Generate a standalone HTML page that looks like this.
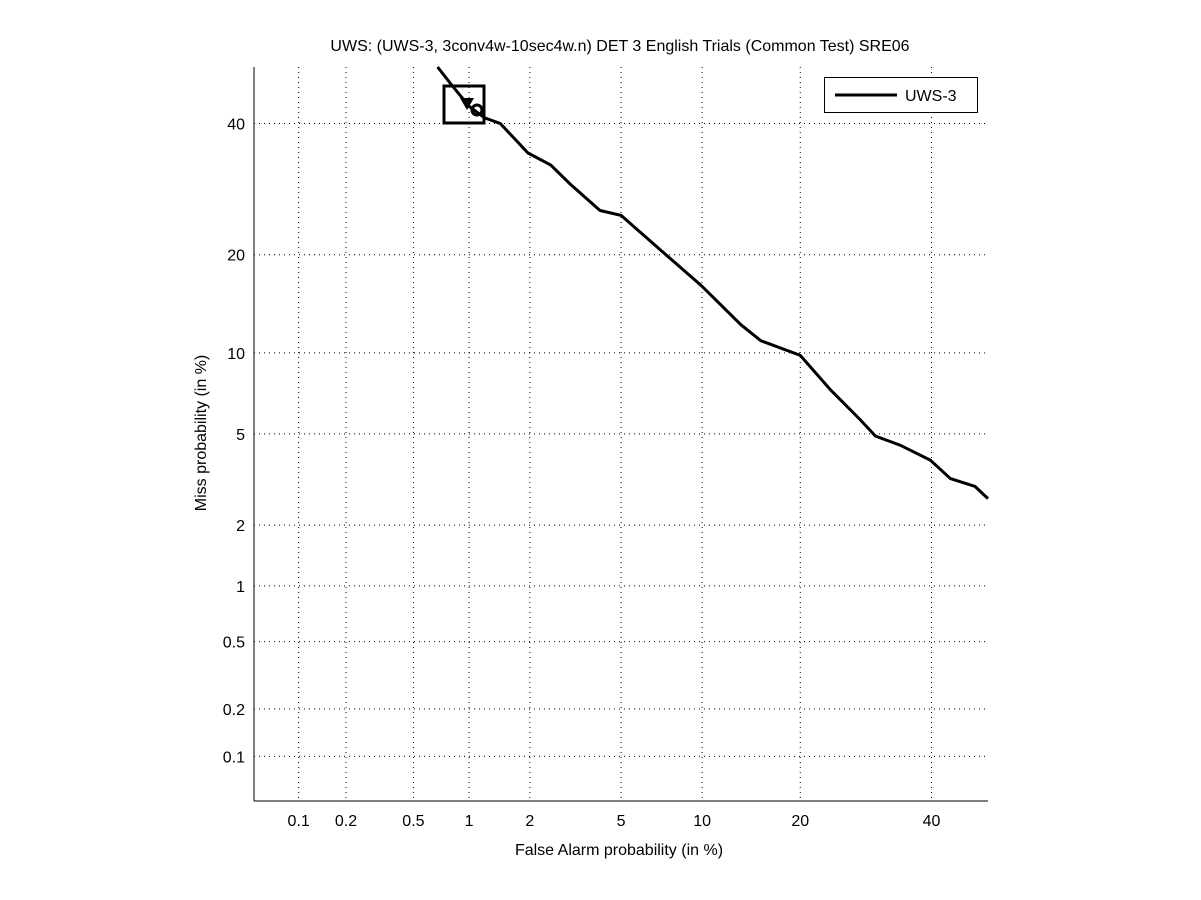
<!DOCTYPE html>
<html><head><meta charset="utf-8"><style>
html,body{margin:0;padding:0;background:#fff;}
svg{display:block;font-family:"Liberation Sans",sans-serif;}
</style></head><body>
<svg id="chart" width="1201" height="900">
<rect width="1201" height="900" fill="#fff"/>
<text x="620" y="51" font-size="16" text-anchor="middle">UWS: (UWS-3, 3conv4w-10sec4w.n) DET 3 English Trials (Common Test) SRE06</text>
<text x="619" y="855" font-size="16" text-anchor="middle">False Alarm probability (in %)</text>
<text transform="translate(206,433) rotate(-90)" font-size="16" text-anchor="middle">Miss probability (in %)</text>
<g id="grid"></g>
<g id="ticks"></g>
<line x1="254" y1="67" x2="254" y2="801" stroke="#000"/>
<line x1="254" y1="801" x2="988" y2="801" stroke="#000"/>
<g id="series"></g>
<g>
<rect x="824.5" y="77.5" width="153" height="35" fill="#fff" stroke="#000"/>
<line x1="835" y1="95" x2="897" y2="95" stroke="#000" stroke-width="3"/>
<text x="905" y="101" font-size="16">UWS-3</text>
</g>
</svg>
<script>
const tickValues=[0.1,0.2,0.5,1,2,5,10,20,40];
const tickLabels=["0.1","0.2","0.5","1","2","5","10","20","40"];
const faValues=[0.68,0.8,1.0,1.2,1.44,1.96,2.5,3.05,4.1,5.0,7.1,9.9,13.4,15.4,20,24,28.3,30.7,34.7,39.8,43.3,47.7,50];
const missValues=[50,47,43,41,40,35,33,30,26,25.3,20.6,16.4,12.4,11,9.8,7.4,5.7,4.9,4.5,3.9,3.25,3.0,2.65];
const minP=0.05,maxP=50;
function probit(p){
 const a=[-39.69683028665376,220.9460984245205,-275.9285104469687,138.3577518672690,-30.66479806614716,2.506628277459239];
 const b=[-54.47609879822406,161.5858368580409,-155.6989798598866,66.80131188771972,-13.28068155288572];
 const c=[-0.007784894002430293,-0.3223964580411365,-2.400758277161838,-2.549732539343734,4.374664141464968,2.938163982698783];
 const d=[0.007784695709041462,0.3224671290700398,2.445134137142996,3.754408661907416];
 let q,r;
 if(p<0.02425){q=Math.sqrt(-2*Math.log(p));return (((((c[0]*q+c[1])*q+c[2])*q+c[3])*q+c[4])*q+c[5])/((((d[0]*q+d[1])*q+d[2])*q+d[3])*q+1);}
 if(p>1-0.02425){q=Math.sqrt(-2*Math.log(1-p));return -(((((c[0]*q+c[1])*q+c[2])*q+c[3])*q+c[4])*q+c[5])/((((d[0]*q+d[1])*q+d[2])*q+d[3])*q+1);}
 q=p-0.5;r=q*q;return (((((a[0]*r+a[1])*r+a[2])*r+a[3])*r+a[4])*r+a[5])*q/(((((b[0]*r+b[1])*r+b[2])*r+b[3])*r+b[4])*r+1);
}
const X0=254,X1=988,Y0=801,Y1=67;
const pl=probit(minP/100),ph=probit(maxP/100);
function xs(v){return X0+(probit(v/100)-pl)/(ph-pl)*(X1-X0);}
function ys(v){return Y0-(probit(v/100)-pl)/(ph-pl)*(Y0-Y1);}
const NS="http://www.w3.org/2000/svg";
function mk(t,parent){const e=document.createElementNS(NS,t);parent.appendChild(e);return e;}
const grid=document.getElementById('grid'),ticks=document.getElementById('ticks');
tickValues.forEach((v,i)=>{
 const x=xs(v),y=ys(v);
 let g=mk('line',grid);
 
 
 g.setAttribute('x1',x);g.setAttribute('x2',x);g.setAttribute('y1',Y1);g.setAttribute('y2',Y0);
 g.setAttribute('stroke','#000');g.setAttribute('stroke-dasharray','1 4');
 g=mk('line',grid);
 
 
 g.setAttribute('x1',X0);g.setAttribute('x2',X1);g.setAttribute('y1',y);g.setAttribute('y2',y);
 g.setAttribute('stroke','#000');g.setAttribute('stroke-dasharray','1 4');
 let t=mk('text',ticks);
 
 
 t.setAttribute('x',x);t.setAttribute('y',826);t.setAttribute('font-size','16');t.setAttribute('text-anchor','middle');
 t.textContent=tickLabels[i];
 t=mk('text',ticks);
 
 
 t.setAttribute('x',245);t.setAttribute('y',y+6);t.setAttribute('font-size','16');t.setAttribute('text-anchor','end');
 t.textContent=tickLabels[i];
});
const s=document.getElementById('series');
const path=mk('polyline',s);


path.setAttribute('points',faValues.map((f,i)=>xs(f).toFixed(1)+','+ys(missValues[i]).toFixed(1)).join(' '));
path.setAttribute('fill','none');path.setAttribute('stroke','#000');path.setAttribute('stroke-width','3');
const bx=mk('rect',s);


bx.setAttribute('x',444);bx.setAttribute('y',86);bx.setAttribute('width',40);bx.setAttribute('height',37);
bx.setAttribute('fill','none');bx.setAttribute('stroke','#000');bx.setAttribute('stroke-width','3');
const tri=mk('polygon',s);


tri.setAttribute('points','460,98 474,98 467,110');
const cir=mk('circle',s);


cir.setAttribute('cx',477);cir.setAttribute('cy',110);cir.setAttribute('r',5);
cir.setAttribute('fill','none');cir.setAttribute('stroke','#000');cir.setAttribute('stroke-width','3');
</script>
</body></html>
